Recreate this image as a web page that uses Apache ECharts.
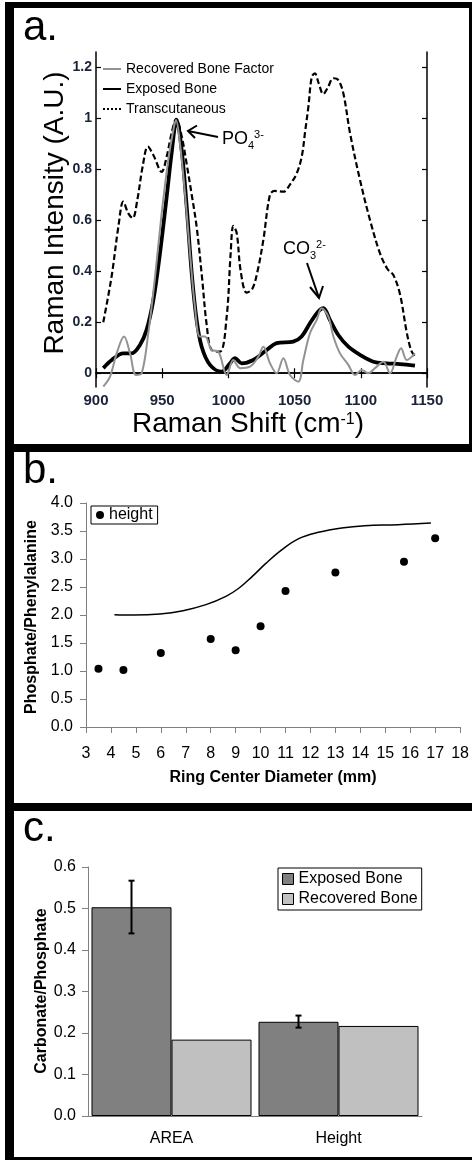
<!DOCTYPE html>
<html><head><meta charset="utf-8">
<script src="https://cdn.jsdelivr.net/npm/echarts@6/dist/echarts.min.js"></script>
<style>html,body{margin:0;padding:0;background:#fff}#c{width:472px;height:1160px}</style>
</head><body><div id="c"></div>
<script>
// ---------- Panel a: Raman spectra ----------
const ramanTicks = [900, 950, 1000, 1050, 1100, 1150];
const intensityTicks = [0, 0.2, 0.4, 0.6, 0.8, 1, 1.2];
const transShift = [905.5,911.8,916.9,920.6,924.4,927.7,931.2,935.2,939.2,943.3,949.6,953.4,957.1,960.6,964.7,968.5,972.3,976.0,980.0,983.6,987.4,993.7,998.7,1001.7,1003.7,1006.3,1009.3,1013.8,1018.0,1022.0,1026.4,1031.4,1035.0,1041.5,1046.5,1051.6,1055.4,1058.0,1060.4,1063.0,1065.4,1068.0,1071.7,1075.0,1079.3,1083.0,1086.8,1091.9,1099.4,1107.0,1114.5,1120.0,1124.6,1129.6,1134.7,1138.0,1140.9];
const transInt = [0.20,0.38,0.575,0.673,0.627,0.608,0.68,0.81,0.889,0.856,0.79,0.85,0.941,0.998,0.93,0.82,0.70,0.575,0.38,0.19,0.091,0.085,0.222,0.47,0.578,0.549,0.40,0.316,0.33,0.40,0.523,0.70,0.715,0.712,0.74,0.784,0.85,0.95,1.045,1.163,1.176,1.14,1.095,1.12,1.157,1.15,1.098,0.941,0.758,0.60,0.47,0.41,0.385,0.31,0.16,0.09,0.065];
const exposedShift = [905.5,911.9,920.6,926.9,933.2,938.2,943.3,948.3,953.4,957.1,960.9,964.7,968.5,972.3,976.0,979.8,986.1,994.9,1001.2,1005.0,1010.0,1018.8,1028.9,1036.4,1049.0,1055.3,1061.6,1067.9,1071.7,1076.7,1083.0,1090.6,1099.4,1109.5,1119.5,1129.6,1140.9];
const exposedInt = [0.02,0.052,0.078,0.078,0.111,0.17,0.287,0.47,0.693,0.863,0.993,0.876,0.653,0.392,0.209,0.104,0.033,0.006,0.039,0.059,0.039,0.052,0.091,0.118,0.124,0.144,0.196,0.242,0.255,0.209,0.15,0.104,0.072,0.045,0.039,0.036,0.03];
const recoveredShift = [905.5,910.6,915.6,921.2,925.7,930.2,934.5,939.5,944.6,949.6,954.6,958.4,960.4,963.4,967.2,971.0,974.7,978.5,982.3,987.4,992.4,998.7,1003.7,1008.8,1016.3,1022.6,1026.4,1031.4,1036.4,1041.5,1046.5,1052.8,1056.6,1061.6,1066.7,1070.4,1075.5,1079.3,1084.3,1090.6,1095.6,1100.7,1105.7,1110.7,1117.0,1122.1,1127.1,1130.4,1134.7,1140.9];
const recoveredInt = [-0.052,-0.013,0.078,0.144,0.078,-0.007,0.0,0.157,0.379,0.627,0.837,0.954,0.993,0.902,0.706,0.47,0.261,0.144,0.144,0.091,0.085,-0.007,0.052,0.02,0.026,0.065,0.104,0.039,0.0,0.059,-0.007,-0.033,0.052,0.157,0.209,0.255,0.222,0.144,0.078,0.033,-0.007,0.013,0.0,0.02,0.045,0.0,0.065,0.098,0.052,0.078];

// ---------- Panel b: Phosphate/Phenylalanine ----------
const ringDiam = [3.5,4.5,6,8,9,10,11,13,15.75,17];
const heightRatio = [1.04,1.02,1.32,1.57,1.37,1.80,2.43,2.76,2.95,3.37];
const fitDiam = [4.14,4.9,5.96,6.89,7.81,8.61,9.14,9.67,10.2,10.86,11.53,12.32,13.25,14.18,15.51,16.83];
const fitRatio = [2.006,2.0,2.018,2.077,2.185,2.333,2.482,2.69,2.917,3.167,3.363,3.476,3.554,3.595,3.613,3.643];

// ---------- Panel c: Carbonate/Phosphate ----------
const ratioCats = ['AREA', 'Height'];
const exposedRatio = [0.503, 0.227];
const recoveredRatio = [0.184, 0.217];
const exposedErrLow = [0.44, 0.213];
const exposedErrHigh = [0.567, 0.242];

const FF = '"Liberation Sans", Arial, sans-serif';
const zip = (a, b) => a.map((v, i) => [v, b[i]]);
const BAR_W = 80;

const mctx = document.createElement('canvas').getContext('2d');
function measure(t, s, w) { mctx.font = (w || 'normal') + ' ' + s + 'px "Liberation Sans"'; return mctx.measureText(t).width; }
function txt(x, y, text, size, o) {
  o = o || {};
  const al = o.align || 'left', va = o.va || 'middle';
  return { type: 'text', x: x, y: y, rotation: o.rot || 0, z: 100,
    style: { text: text, fontSize: size, fontFamily: FF, fontWeight: o.weight || 'normal', fill: o.color || '#000',
      textAlign: al, align: al, textVerticalAlign: va, verticalAlign: va } };
}
function run(pieces, x, baseline, center) {
  const widths = pieces.map(p => measure(p.t, p.s, p.w));
  const total = widths.reduce((a, b) => a + b, 0);
  let cur = center ? x - total / 2 : x;
  const out = [];
  pieces.forEach((p, i) => {
    out.push(txt(cur, baseline + (p.dy || 0) - 0.347 * p.s, p.t, p.s, { weight: p.w }));
    cur += widths[i];
  });
  return out;
}
function arrow(tail, tip, wings) {
  return [
    { type: 'line', z: 100, shape: { x1: tail[0], y1: tail[1], x2: tip[0], y2: tip[1] }, style: { stroke: '#000', lineWidth: 2 } },
    { type: 'polyline', z: 100, shape: { points: [wings[0], tip, wings[1]] }, style: { stroke: '#000', lineWidth: 2, fill: null } }
  ];
}

const chart = echarts.init(document.getElementById('c'), null, { renderer: 'canvas' });

const blackAxis = { lineStyle: { color: '#000', width: 1.5 } };
const grayAxis = { lineStyle: { color: '#808080', width: 1 } };
const lblA = { fontFamily: FF, fontWeight: 'bold', color: '#1a2238' };

const graphic = [
  { type: 'rect', shape: { x: 5, y: 2, width: 9, height: 1158 }, style: { fill: '#000' }, z: 90 },
  { type: 'rect', shape: { x: 5, y: 2, width: 467, height: 6 }, style: { fill: '#000' }, z: 90 },
  { type: 'rect', shape: { x: 469, y: 2, width: 3, height: 446 }, style: { fill: '#000' }, z: 90 },
  { type: 'rect', shape: { x: 5, y: 444, width: 467, height: 8 }, style: { fill: '#000' }, z: 90 },
  { type: 'rect', shape: { x: 5, y: 803, width: 467, height: 8 }, style: { fill: '#000' }, z: 90 },
  { type: 'rect', shape: { x: 5, y: 1157, width: 467, height: 3 }, style: { fill: '#000' }, z: 90 },
  txt(23, 43 - 0.347 * 42, 'a.', 42),
  txt(23, 486 - 0.347 * 42, 'b.', 42),
  txt(23, 844 - 0.347 * 42, 'c.', 42),
  txt(55, 213, 'Raman Intensity (A.U.)', 28, { align: 'center', rot: Math.PI / 2 }),
  ...run([{ t: 'Raman Shift (cm', s: 28 }, { t: '-1', s: 16, dy: -9 }, { t: ')', s: 28 }], 248, 434, true),
  ...run([{ t: 'PO', s: 18 }, { t: '4', s: 11, dy: 5 }, { t: '3-', s: 11, dy: -6 }], 222, 145, false),
  ...arrow([218, 137], [188, 131], [[197, 125.5], [195, 138]]),
  ...run([{ t: 'CO', s: 18 }, { t: '3', s: 11, dy: 5 }, { t: '2-', s: 11, dy: -6 }], 283, 255, false),
  ...arrow([307, 263], [319, 298], [[310, 287], [323, 286]]),
  txt(32, 617, 'Phosphate/Phenylalanine', 16, { align: 'center', rot: Math.PI / 2, weight: 'bold' }),
  txt(273, 778, 'Ring Center Diameter (mm)', 16, { align: 'center', weight: 'bold' }),
  txt(42, 991, 'Carbonate/Phosphate', 16, { align: 'center', rot: Math.PI / 2, weight: 'bold' })
];

const option = {
  animation: false,
  backgroundColor: '#fff',
  textStyle: { fontFamily: FF },
  grid: [
    { left: 96, top: 52, width: 331, height: 335 },
    { left: 86, top: 503, width: 377, height: 224 },
    { left: 88, top: 867, width: 334, height: 249 }
  ],
  xAxis: [
    { gridIndex: 0, type: 'value', min: 900, max: 1150, interval: 50, position: 'bottom',
      axisLine: blackAxis, axisTick: { inside: true, length: 5, lineStyle: { color: '#000', width: 1.2 } },
      axisLabel: Object.assign({ fontSize: 15, margin: 6, formatter: v => String(v) }, lblA), splitLine: { show: false } },
    { gridIndex: 0, type: 'value', min: 900, max: 1150, interval: 50, position: 'top',
      axisLine: blackAxis, axisTick: { inside: true, length: 5, lineStyle: { color: '#000', width: 1.2 } },
      axisLabel: { show: false }, splitLine: { show: false } },
    { gridIndex: 1, type: 'value', min: 3, max: 18, interval: 1,
      axisLine: grayAxis, axisTick: { length: 6, lineStyle: { color: '#808080' } },
      axisLabel: { fontSize: 16, margin: 19, color: '#000', fontFamily: FF }, splitLine: { show: false } },
    { gridIndex: 2, type: 'category', data: ratioCats,
      axisLine: grayAxis, axisTick: { length: 6, lineStyle: { color: '#808080' } },
      axisLabel: { fontSize: 16, margin: 15, color: '#000', fontFamily: FF }, splitLine: { show: false } }
  ],
  yAxis: [
    { gridIndex: 0, type: 'value', min: -0.054, max: 1.26, position: 'left',
      axisLine: blackAxis,
      axisTick: { inside: true, length: 5, customValues: intensityTicks, lineStyle: { color: '#000', width: 1.2 } },
      axisLabel: Object.assign({ fontSize: 14, margin: 4, customValues: intensityTicks, formatter: v => String(+(+v).toFixed(1)) }, lblA),
      splitLine: { show: false } },
    { gridIndex: 0, type: 'value', min: -0.054, max: 1.26, position: 'right',
      axisLine: blackAxis,
      axisTick: { inside: true, length: 5, customValues: intensityTicks, lineStyle: { color: '#000', width: 1.2 } },
      axisLabel: { show: false }, splitLine: { show: false } },
    { gridIndex: 1, type: 'value', min: 0, max: 4, interval: 0.5,
      axisLine: Object.assign({ show: true }, grayAxis), axisTick: { show: true, length: 6, lineStyle: { color: '#808080' } },
      axisLabel: { fontSize: 16, margin: 13, color: '#000', fontFamily: FF, formatter: v => (+v).toFixed(1) }, splitLine: { show: false } },
    { gridIndex: 2, type: 'value', min: 0, max: 0.6, interval: 0.1,
      axisLine: Object.assign({ show: true }, grayAxis), axisTick: { show: true, length: 6, lineStyle: { color: '#808080' } },
      axisLabel: { fontSize: 16, margin: 12, color: '#000', fontFamily: FF, formatter: v => (+v).toFixed(1) }, splitLine: { show: false } }
  ],
  legend: [
    { left: 102, top: 62, orient: 'vertical', itemWidth: 18, itemHeight: 12, itemGap: 6, padding: 0,
      itemStyle: { opacity: 0 },
      textStyle: { fontSize: 14, fontFamily: FF, color: '#000' },
      data: ['Recovered Bone Factor', 'Exposed Bone', { name: 'Transcutaneous', lineStyle: { type: [2, 2] } }] },
    { left: 91, top: 506, padding: [1, 5, 1, 5], borderColor: '#000', borderWidth: 1, itemWidth: 8, itemHeight: 8,
      textStyle: { fontSize: 16, fontFamily: FF, color: '#000' }, data: [{ name: 'height', icon: 'circle' }] },
    { left: 278, top: 868, orient: 'vertical', padding: [3, 4, 3, 4], borderColor: '#000', borderWidth: 1,
      itemWidth: 11, itemHeight: 11, itemGap: 4, icon: 'rect',
      itemStyle: { borderColor: '#000', borderWidth: 1 },
      formatter: n => n.replace(' (c)', ''),
      textStyle: { fontSize: 16, fontFamily: FF, color: '#000' }, data: ['Exposed Bone (c)', 'Recovered Bone (c)'] }
  ],
  series: [
    { name: 'Transcutaneous', type: 'line', xAxisIndex: 0, yAxisIndex: 0, data: zip(transShift, transInt),
      symbol: 'none', smooth: 0.35, lineStyle: { color: '#000', width: 2.2, type: [6, 3] }, itemStyle: { color: '#000' }, z: 2 },
    { name: 'Exposed Bone', type: 'line', xAxisIndex: 0, yAxisIndex: 0, data: zip(exposedShift, exposedInt),
      symbol: 'none', smooth: 0.35, lineStyle: { color: '#000', width: 3.8 }, itemStyle: { color: '#000' }, z: 3 },
    { name: 'Recovered Bone Factor', type: 'line', xAxisIndex: 0, yAxisIndex: 0, data: zip(recoveredShift, recoveredInt),
      symbol: 'none', smooth: 0.35, lineStyle: { color: '#929292', width: 2 }, itemStyle: { color: '#929292' }, z: 4 },
    { name: 'height', type: 'scatter', xAxisIndex: 2, yAxisIndex: 2, data: zip(ringDiam, heightRatio),
      symbolSize: 8, itemStyle: { color: '#000', opacity: 1 } },
    { name: 'fit', type: 'line', xAxisIndex: 2, yAxisIndex: 2, data: zip(fitDiam, fitRatio),
      symbol: 'none', smooth: 0.4, lineStyle: { color: '#000', width: 1.5 } },
    { name: 'Exposed Bone (c)', type: 'bar', xAxisIndex: 3, yAxisIndex: 3, data: exposedRatio, barWidth: BAR_W, barGap: '0%',
      itemStyle: { color: '#808080', borderColor: '#000', borderWidth: 1 } },
    { name: 'Recovered Bone (c)', type: 'bar', xAxisIndex: 3, yAxisIndex: 3, data: recoveredRatio, barWidth: BAR_W, barGap: '0%',
      itemStyle: { color: '#c0c0c0', borderColor: '#000', borderWidth: 1 } },
    { name: 'err', type: 'custom', xAxisIndex: 3, yAxisIndex: 3, z: 10,
      data: ratioCats.map((c, i) => [i, exposedErrLow[i], exposedErrHigh[i]]),
      renderItem: function (params, api) {
        const lo = api.coord([api.value(0), api.value(1)]);
        const hi = api.coord([api.value(0), api.value(2)]);
        const x = lo[0] - BAR_W / 2, cap = 3;
        const st = { stroke: '#000', lineWidth: 2 };
        return { type: 'group', children: [
          { type: 'line', shape: { x1: x, y1: lo[1], x2: x, y2: hi[1] }, style: st },
          { type: 'line', shape: { x1: x - cap, y1: hi[1], x2: x + cap, y2: hi[1] }, style: st },
          { type: 'line', shape: { x1: x - cap, y1: lo[1], x2: x + cap, y2: lo[1] }, style: st }
        ] };
      } }
  ],
  graphic: graphic
};
chart.setOption(option);
</script>
</body></html>
